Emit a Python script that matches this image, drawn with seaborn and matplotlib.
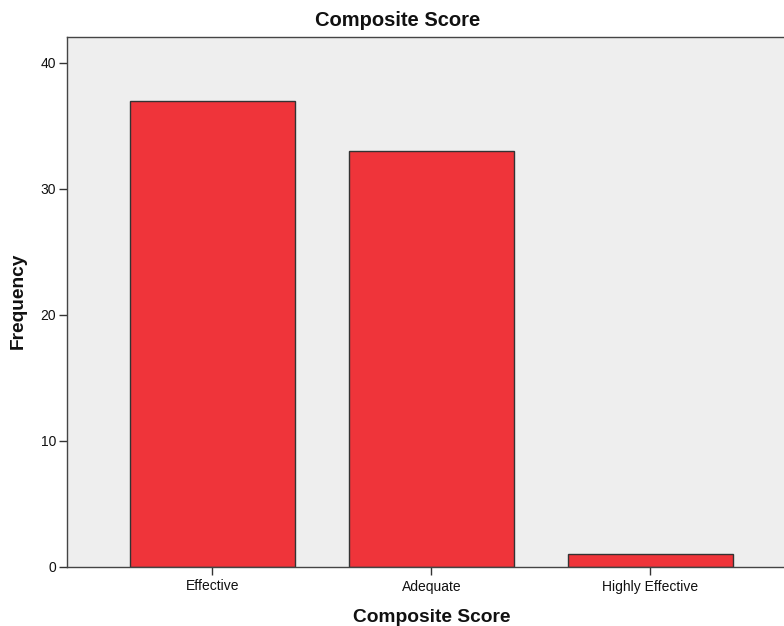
import matplotlib
matplotlib.use("Agg")
import matplotlib.pyplot as plt
import seaborn as sns
import pandas as pd

categories = ["Effective", "Adequate", "Highly Effective"]
frequencies = [37, 33, 1]

df = pd.DataFrame({"Composite Score": categories, "Frequency": frequencies})

sns.set_theme(style="white")
plt.rcParams['font.family'] = ['Liberation Sans', 'DejaVu Sans']

fig = plt.figure(figsize=(7.84, 6.26), dpi=100)
ax = fig.add_axes([67/784, 59/626, 1 - 67/784, (567-37)/626])
ax.set_facecolor("#EEEEEE")

sns.barplot(data=df, x="Composite Score", y="Frequency", ax=ax,
            color="#EF343A", saturation=1, width=0.753,
            edgecolor="#333333", linewidth=1.0)

ax.set_xlim(-0.664, 2.61)
ax.set_ylim(0, 42.06)
ax.set_yticks([0, 10, 20, 30, 40])

for s in ["left", "bottom", "top"]:
    ax.spines[s].set_visible(True)
    ax.spines[s].set_color("#444444")
    ax.spines[s].set_linewidth(1.0)
ax.spines["right"].set_visible(False)

ax.tick_params(axis="both", which="both", direction="out", length=6, width=1,
               color="#333333", labelsize=10, labelcolor="#111111", pad=2,
               bottom=True, left=True)
ax.tick_params(axis="x", pad=3)

ax.set_xlabel("")
ax.set_ylabel("")
fig.text(18/784, 1 - 301/626, "Frequency", rotation=90, ha="center", va="center",
         fontsize=13.8, fontweight="bold", color="#111111")
fig.text(432/784, 1 - 617/626, "Composite Score", ha="center", va="center",
         fontsize=13.8, fontweight="bold", color="#111111")
fig.text(398/784, 1 - 20/626, "Composite Score", ha="center", va="center",
         fontsize=14.5, fontweight="bold", color="#111111")

fig.savefig("out.png", dpi=100, facecolor="white")
